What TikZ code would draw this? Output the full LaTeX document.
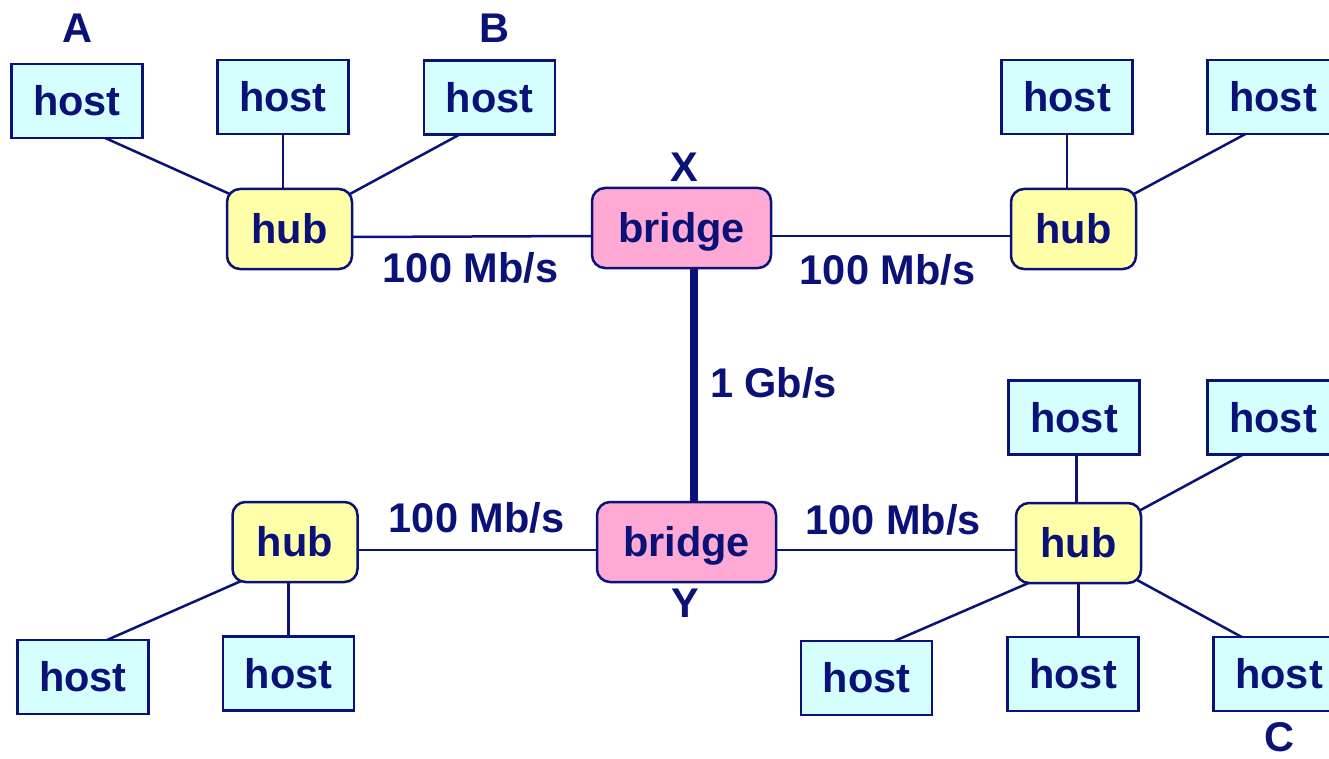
\documentclass[tikz,border=0pt]{standalone}
\usepackage{fontspec}
\setmainfont{Liberation Sans}
\usetikzlibrary{calc,backgrounds}
\definecolor{ink}{RGB}{10,18,120}
\definecolor{hostfill}{RGB}{213,255,255}
\definecolor{hubfill}{RGB}{255,255,170}
\definecolor{bridgefill}{RGB}{255,170,213}
\tikzset{
  txt/.style={font=\fontsize{41.5}{48}\selectfont\bfseries, text=ink, inner sep=0pt, text height=29.7pt, text depth=0pt},
  hostbox/.style={txt, draw=ink, line width=2.5pt, fill=hostfill, minimum width=131pt, minimum height=74pt},
  hubbox/.style={txt, draw=ink, line width=2.5pt, fill=hubfill, rounded corners=13pt, minimum width=125pt, minimum height=80pt},
  bridgebox/.style={txt, draw=ink, line width=2.5pt, fill=bridgefill, rounded corners=13pt, minimum width=179pt, minimum height=80pt},
  wire/.style={draw=ink, line width=2.5pt, shorten <=-6pt, shorten >=-6pt},
  fatwire/.style={draw=ink, line width=8pt, shorten <=-4pt, shorten >=-4pt},
}
\begin{document}
\begin{tikzpicture}[x=1pt,y=-1pt]
\useasboundingbox (0,0) rectangle (1329,759);
\clip (0,0) rectangle (1329,759);
% hosts
\node[hostbox] (hA) at (77,101) {host};
\node[hostbox] (h2) at (283,97) {host};
\node[hostbox] (hB) at (489.5,97.5) {host};
\node[hostbox] (hT1) at (1067,97) {host};
\node[hostbox] (hT2) at (1273,97) {host};
\node[hostbox] (hR1) at (1074,417.5) {host};
\node[hostbox] (hR2) at (1273,417.5) {host};
\node[hostbox] (hR3) at (866.5,678) {host};
\node[hostbox] (hR4) at (1073,674) {host};
\node[hostbox] (hR5) at (1279,674) {host};
\node[hostbox] (hL1) at (83,677) {host};
\node[hostbox] (hL2) at (288.5,673.5) {host};
% hubs and bridges
\node[hubbox] (hubTL) at (289.5,229) {hub};
\node[hubbox] (hubTR) at (1073.5,229) {hub};
\node[hubbox] (hubBL) at (295,542) {hub};
\node[hubbox] (hubBR) at (1078.5,543) {hub};
\node[bridgebox] (bX) at (681.5,228) {bridge};
\node[bridgebox] (bY) at (686.5,542) {bridge};
% labels
\node[txt] (lA) at (77,28) {A};
\node[txt] (lB) at (494.5,28) {B};
\node[txt] (lX) at (684,167) {X};
\node[txt] (lY) at (685,603) {Y};
\node[txt] (lC) at (1279,737) {C};
\node[txt] (s1) at (470.5,268) {100 Mb/s};
\node[txt] (s2) at (887.5,270) {100 Mb/s};
\node[txt] (s3) at (476.5,518) {100 Mb/s};
\node[txt] (s4) at (893,520) {100 Mb/s};
\node[txt] (s5) at (773.5,382.5) {1 Gb/s};
% connectors
\begin{pgfonlayer}{background}
\path[wire] (hA.-51) -- (hubTL.150);
\path[wire] (h2.south) -- (h2.south |- hubTL.north);
\path[wire] (hB.-130) -- (hubTL.30);
\path[wire] ([yshift=-8pt]hubTL.east) -- ([yshift=-8pt]bX.west);
\path[wire] ([yshift=-8pt]bX.east) -- ([yshift=-8pt]bX.east -| hubTR.west);
\path[wire] (hT1.south) -- (hT1.south |- hubTR.north);
\path[wire] (hubTR.30) -- (hT2.-128);
\path[fatwire] ([xshift=12pt]bX.south) -- ([xshift=12pt]bX.south |- bY.north);
\path[wire] ([yshift=-8pt]hubBL.east) -- ([yshift=-8pt]hubBL.east -| bY.west);
\path[wire] ([yshift=-8pt]bY.east) -- ([yshift=-8pt]bY.east -| hubBR.west);
\path[wire] (hubBL.-145) -- (hL1.55);
\path[wire] (hL2.north) -- (hL2.north |- hubBL.south);
\path[wire] ([xshift=-2pt]hubBR.north) -- ([xshift=-2pt]hubBR.north |- hR1.south);
\path[wire] (hubBR.28) -- (hR2.-130);
\path[wire] (hubBR.-142) -- (hR3.51);
\path[wire] (hubBR.south) -- (hubBR.south |- hR4.north);
\path[wire] (hubBR.-32) -- (hR5.136);
\end{pgfonlayer}
\end{tikzpicture}
\end{document}
